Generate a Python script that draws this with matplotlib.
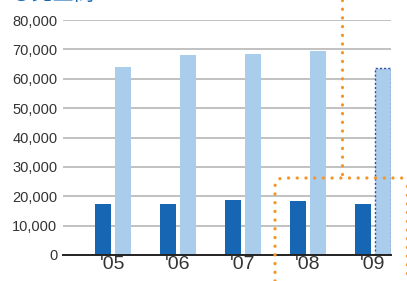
import matplotlib
matplotlib.use("Agg")
import matplotlib.pyplot as plt
from matplotlib.lines import Line2D
import numpy as np

plt.rcParams['font.family'] = ['Liberation Sans', 'Noto Sans CJK JP', 'DejaVu Sans']

years = ["'05", "'06", "'07", "'08", "'09"]
series_dark = [17400, 17400, 18700, 18500, 17400]
series_light = [63900, 68000, 68400, 69400, 63800]
yticks = [0, 10000, 20000, 30000, 40000, 50000, 60000, 70000, 80000]
ytick_labels = ["0", "10,000", "20,000", "30,000", "40,000", "50,000", "60,000", "70,000", "80,000"]

W, H = 407, 281
fig = plt.figure(figsize=(W / 100, H / 100), dpi=100)

ax = fig.add_axes([63 / W, (H - 255) / H, (391 - 63) / W, (255 - 20) / H])
x = np.arange(len(years))
bw = 16 / 65
off = 10 / 65
ax.bar(x - off, series_dark, width=bw, color='#1766b4', zorder=3)
light_colors = ['#abcdec'] * len(years)
bars = ax.bar(x + off, series_light, width=bw, color=light_colors, zorder=3)
last = bars[-1]
last.set_edgecolor('#3b4aa0')
last.set_linestyle((0, (1.5, 1.5)))
last.set_linewidth(1.0)

ax.set_xlim((63 - 113) / 65, (391 - 113) / 65)
ax.set_ylim(0, 80000)
ax.set_yticks(yticks)
ax.set_yticklabels(ytick_labels, fontsize=10.5, color='#333333')
ax.set_xticks(x)
ax.set_xticklabels(years, fontsize=14, color='#333333')
ax.tick_params(axis='y', length=0, pad=4)
ax.tick_params(axis='x', length=0, pad=1)
ax.grid(axis='y', color='#b0b0b0', linewidth=1.1, zorder=0)
for s in ['top', 'right', 'left']:
    ax.spines[s].set_visible(False)
ax.spines['bottom'].set_color('#222222')
ax.spines['bottom'].set_linewidth(1.4)
ax.spines['bottom'].set_zorder(4)

# clipped title at the top (only its lower edge is visible in the reference)
fig.text(11 / W, 1 - 0.3 / H, '●売上高', fontsize=15, color='#1766b4',
         family=['Noto Sans CJK JP', 'DejaVu Sans'], va='baseline', ha='left')

# orange dotted overlay lines (figure pixel coordinates)
def px(xs, ys):
    return [xx / W for xx in xs], [1 - yy / H for yy in ys]

orange = '#f5962a'
kw = dict(color=orange, linewidth=2.4, linestyle=(0, (0.01, 2.6)),
          dash_capstyle='round', transform=fig.transFigure, clip_on=False)
theta = np.linspace(np.pi, np.pi / 2, 8)
cx, cy, r = 283, 186, 8
arc_x = list(cx + r * np.cos(theta))
arc_y = list(cy - r * np.sin(theta))
xs = [275] + arc_x + [407]
ys = [281] + arc_y + [178]
fig.add_artist(Line2D(*px(xs, ys), **kw))
fig.add_artist(Line2D(*px([341.5, 341.5], [0, 178]), **kw))
fig.add_artist(Line2D(*px([406.5, 406.5], [186, 281]), **kw))

fig.savefig('out.png', dpi=100)
